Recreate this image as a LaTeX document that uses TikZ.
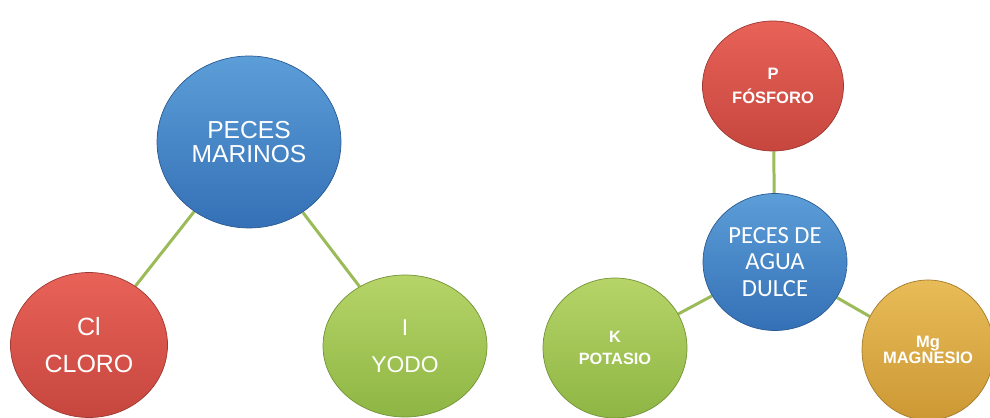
\documentclass[tikz,border=0pt]{standalone}
\usepackage{fontspec}
\setmainfont{Liberation Sans}
\newfontfamily\calibrifont{Carlito}
\usetikzlibrary{shapes.geometric, backgrounds}

\definecolor{linegreen}{RGB}{155,187,89}
\definecolor{bluetop}{RGB}{92,158,216}
\definecolor{bluebot}{RGB}{52,112,182}
\definecolor{redtop}{RGB}{232,98,88}
\definecolor{redbot}{RGB}{198,70,62}
\definecolor{greentop}{RGB}{182,212,104}
\definecolor{greenbot}{RGB}{142,182,68}
\definecolor{goldtop}{RGB}{232,188,88}
\definecolor{goldbot}{RGB}{204,152,52}

\tikzset{
  bubble/.style={ellipse, inner sep=0pt, text=white, align=center, draw=#1bot!80!black, line width=0.4pt},
  bluebubble/.style={bubble=blue, top color=bluetop, bottom color=bluebot},
  redbubble/.style={bubble=red, top color=redtop, bottom color=redbot},
  greenbubble/.style={bubble=green, top color=greentop, bottom color=greenbot},
  goldbubble/.style={bubble=gold, top color=goldtop, bottom color=goldbot},
  link/.style={draw=linegreen, line width=1.7pt}
}

\begin{document}
\begin{tikzpicture}[x=0.02cm, y=-0.02cm]
        \useasboundingbox (0,0) rectangle (990,418);
        \clip (0,0) rectangle (990,418);

        % Draw nodes (marine fish)
        \node[bluebubble, minimum width=3.68cm, minimum height=3.44cm, font=\fontsize{14}{14}\selectfont] (marinos) at (249,142) {PECES\\MARINOS};
        \node[redbubble, minimum width=3.14cm, minimum height=2.9cm, font=\fontsize{14.2}{21.5}\selectfont] (cloro) at (89,345) {Cl\\CLORO};
        \node[greenbubble, minimum width=3.28cm, minimum height=2.84cm, font=\fontsize{13}{21}\selectfont] (yodo) at (405,346) {I\\YODO};

        % Draw nodes (freshwater fish)
        \node[redbubble, minimum width=2.82cm, minimum height=2.6cm, font=\bfseries\fontsize{9.4}{14}\selectfont] (fosforo) at (773,86) {P\\FÓSFORO};
        \node[bluebubble, minimum width=2.88cm, minimum height=2.74cm, font=\calibrifont\fontsize{14}{15.3}\selectfont] (dulce) at (775,262) {PECES DE\\AGUA\\DULCE};
        \node[greenbubble, minimum width=2.88cm, minimum height=2.8cm, font=\bfseries\fontsize{9.3}{12.5}\selectfont] (potasio) at (615,348) {K\\POTASIO};
        \node[goldbubble, minimum width=2.64cm, minimum height=2.8cm, font=\bfseries\fontsize{9.4}{9.5}\selectfont] (magnesio) at (928,350) {Mg\\MAGNESIO};

        % Draw connections
        \begin{scope}[on background layer]
            \draw[link] (marinos) -- (cloro);
            \draw[link] (marinos) -- (yodo);
            \draw[link] (fosforo) -- (dulce);
            \draw[link] (dulce) -- (potasio);
            \draw[link] (dulce) -- (magnesio);
        \end{scope}
    \end{tikzpicture}
\end{document}
